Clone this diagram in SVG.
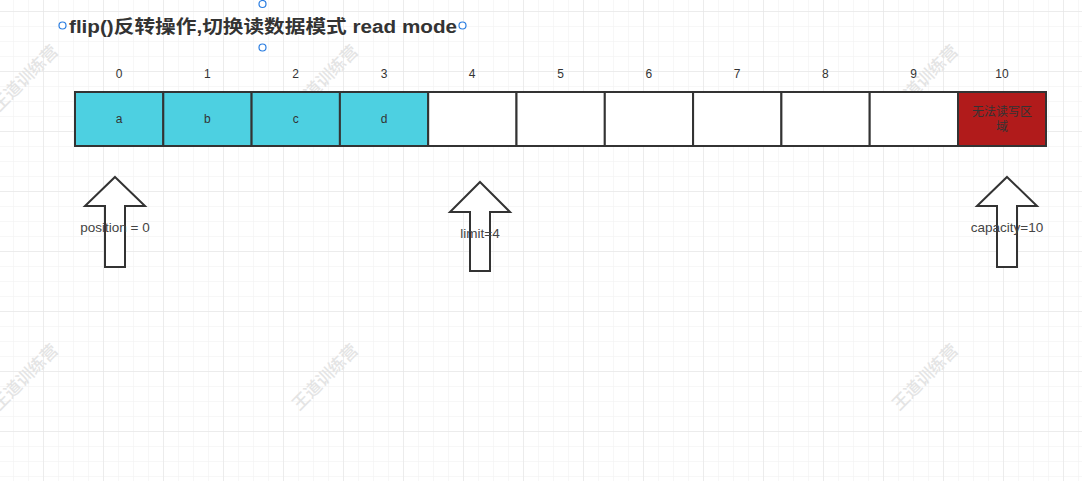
<svg xmlns="http://www.w3.org/2000/svg" width="1082" height="481" viewBox="0 0 1082 481">
  <defs>
    <pattern id="minor" patternUnits="userSpaceOnUse" x="13" y="11" width="15" height="15">
      <path d="M0 0H15M0 0V15" fill="none" stroke="#efefef" stroke-width="1"/>
    </pattern>
    <pattern id="major" patternUnits="userSpaceOnUse" x="43" y="11" width="60" height="60">
      <path d="M0 0H60M0 0V60" fill="none" stroke="#e2e2e2" stroke-width="1"/>
    </pattern>
    <g id="wm"><text class="wm" transform="rotate(-45)" x="0" y="6" text-anchor="middle">王道训练营</text></g>
  </defs>
  <style>
    .t { font-family: "Liberation Sans", "Noto Sans CJK SC", sans-serif; font-size: 12px; fill: #333; text-anchor: middle; }
    .lbl { font-family: "Liberation Sans", "Noto Sans CJK SC", sans-serif; font-size: 13.5px; fill: #444; text-anchor: middle; }
    .wm { font-family: "Noto Sans CJK SC", sans-serif; font-size: 17px; fill: #e4e4e4; font-weight: 500; }
    .cell { stroke: #333; stroke-width: 2; }
    .data { fill: #4dd0e1; }
    .empty { fill: #ffffff; }
    .blocked { fill: #b11b1b; }
    .arrow { fill: #ffffff; stroke: #333; stroke-width: 2; stroke-linejoin: miter; }
    .handle { fill: #ffffff; stroke: #2a7de1; stroke-width: 1.2; }
  </style>
  <rect width="1082" height="481" fill="#ffffff"/>
  <rect width="1082" height="481" fill="url(#minor)"/>
  <rect width="1082" height="481" fill="url(#major)"/>
  <g id="watermarks">
    <use href="#wm" x="25" y="78"/>
    <use href="#wm" x="325" y="78"/>
    <use href="#wm" x="925" y="78"/>
    <use href="#wm" x="25" y="377"/>
    <use href="#wm" x="325" y="377"/>
    <use href="#wm" x="925" y="377"/>
  </g>
  <g id="title">
    <text x="69" y="33" font-family="'Liberation Sans', 'Noto Sans CJK SC', sans-serif" font-size="18" font-weight="bold" fill="#333" textLength="388" lengthAdjust="spacingAndGlyphs">flip()反转操作,切换读数据模式 read mode</text>
    <circle class="handle" cx="62.5" cy="25.5" r="3.5"/>
    <circle class="handle" cx="462.5" cy="25.5" r="3.5"/>
    <circle class="handle" cx="262.5" cy="4" r="3.5"/>
    <circle class="handle" cx="262.5" cy="47.5" r="3.5"/>
  </g>
  <g id="indices">
    <text class="t" x="119" y="78">0</text>
    <text class="t" x="207.4" y="78">1</text>
    <text class="t" x="295.7" y="78">2</text>
    <text class="t" x="384" y="78">3</text>
    <text class="t" x="472.2" y="78">4</text>
    <text class="t" x="560.5" y="78">5</text>
    <text class="t" x="648.8" y="78">6</text>
    <text class="t" x="737" y="78">7</text>
    <text class="t" x="825.3" y="78">8</text>
    <text class="t" x="913.6" y="78">9</text>
    <text class="t" x="1002" y="78">10</text>
  </g>
  <g id="cell0"><rect class="cell data" x="75" y="92" width="88.3" height="54"/><text class="t" x="119.1" y="123">a</text></g>
  <g id="cell1"><rect class="cell data" x="163.3" y="92" width="88.3" height="54"/><text class="t" x="207.4" y="123">b</text></g>
  <g id="cell2"><rect class="cell data" x="251.6" y="92" width="88.3" height="54"/><text class="t" x="295.7" y="123">c</text></g>
  <g id="cell3"><rect class="cell data" x="339.9" y="92" width="88.3" height="54"/><text class="t" x="384" y="123">d</text></g>
  <g id="cell4"><rect class="cell empty" x="428.2" y="92" width="88.3" height="54"/></g>
  <g id="cell5"><rect class="cell empty" x="516.5" y="92" width="88.3" height="54"/></g>
  <g id="cell6"><rect class="cell empty" x="604.8" y="92" width="88.3" height="54"/></g>
  <g id="cell7"><rect class="cell empty" x="693.1" y="92" width="88.3" height="54"/></g>
  <g id="cell8"><rect class="cell empty" x="781.4" y="92" width="88.3" height="54"/></g>
  <g id="cell9"><rect class="cell empty" x="869.7" y="92" width="88.3" height="54"/></g>
  <g id="cell10"><rect class="cell blocked" x="958" y="92" width="88" height="54"/>
    <text class="t" x="1002" y="116">无法读写区</text>
    <text class="t" x="1002" y="131">域</text>
  </g>
  <g id="arrow-position">
    <polygon class="arrow" points="115,177 145,206 125,206 125,267 105,267 105,206 85,206"/>
    <text class="lbl" x="115" y="231.5">position  = 0</text>
  </g>
  <g id="arrow-limit">
    <polygon class="arrow" points="480,182 510,212 490,212 490,271 470,271 470,212 450,212"/>
    <text class="lbl" x="480" y="237.5">limit=4</text>
  </g>
  <g id="arrow-capacity">
    <polygon class="arrow" points="1007,177 1037,206 1017,206 1017,267 997,267 997,206 977,206"/>
    <text class="lbl" x="1007" y="231.5">capacity=10</text>
  </g>
  <g id="connectors"></g>
</svg>
